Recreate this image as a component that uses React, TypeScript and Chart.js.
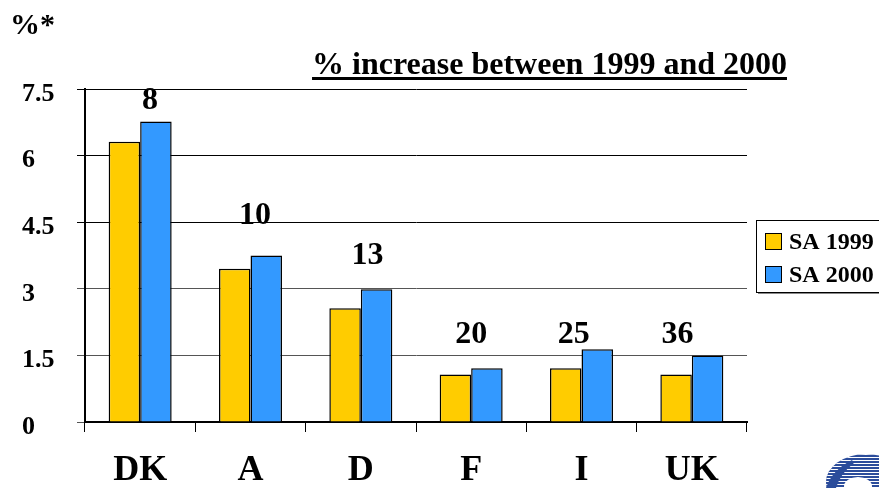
import React, { useEffect, useRef } from "react";
import { Chart, registerables } from "chart.js";

Chart.register(...registerables);

const categories = ["DK", "A", "D", "F", "I", "UK"];
const sa1999 = [6.31, 3.45, 2.56, 1.07, 1.21, 1.07];
const sa2000 = [6.77, 3.75, 2.99, 1.21, 1.64, 1.5];
const increaseLabels = ["8", "10", "13", "20", "25", "36"];
// label anchor positions in data units (x: category index, y: value axis)
const increaseLabelX = [0.09, 1.04, 2.06, 3.0, 3.93, 4.87];
const increaseLabelY = [7.04, 4.45, 3.56, 1.79, 1.79, 1.79];
const yTicks = [0, 1.5, 3, 4.5, 6, 7.5];
const yTickLabels = ["0", "1.5", "3", "4.5", "6", "7.5"];
const seriesNames = ["SA 1999", "SA 2000"];
const titleText = "% increase between 1999 and 2000";
const unitText = "%*";

const FONT = '"Liberation Serif", "Times New Roman", serif';
const YELLOW = "#FFCC00";
const BLUE = "#3399FF";

const overlayPlugin = {
  id: "overlay",
  afterDatasetsDraw(chart: any) {
    const ctx = chart.ctx;
    const xs = chart.scales.x;
    const ys = chart.scales.y;
    ctx.save();
    ctx.fillStyle = "#000";
    ctx.font = `bold 32px ${FONT}`;
    ctx.textAlign = "center";
    ctx.textBaseline = "alphabetic";
    increaseLabels.forEach((t, i) => {
      ctx.fillText(t, xs.getPixelForValue(increaseLabelX[i]), ys.getPixelForValue(increaseLabelY[i]));
    });
    ctx.restore();
  },
  afterDraw(chart: any) {
    const ctx = chart.ctx;
    ctx.save();
    ctx.fillStyle = "#000";
    // unit
    ctx.font = `bold 30px ${FONT}`;
    ctx.textAlign = "left";
    ctx.textBaseline = "alphabetic";
    ctx.fillText(unitText, 10, 34);
    // title
    ctx.font = `bold 32px ${FONT}`;
    ctx.textAlign = "center";
    const cx = 549.5;
    ctx.fillText(titleText, cx, 74);
    const w = ctx.measureText(titleText).width;
    ctx.fillRect(cx - w / 2, 77, w, 3);

    // legend
    const lx = 756, ly = 220, lh = 72;
    ctx.fillStyle = "#fff";
    ctx.fillRect(lx, ly, 140, lh);
    ctx.strokeStyle = "#888";
    ctx.lineWidth = 1;
    ctx.beginPath();
    ctx.moveTo(lx + 2, ly + lh + 1.5);
    ctx.lineTo(880, ly + lh + 1.5);
    ctx.stroke();
    ctx.strokeStyle = "#000";
    ctx.lineWidth = 1;
    ctx.strokeRect(lx + 0.5, ly + 0.5, 140, lh);
    const ds = chart.data.datasets;
    ctx.font = `bold 24px ${FONT}`;
    ctx.textAlign = "left";
    ds.forEach((d: any, i: number) => {
      const y = ly + 13 + i * 33;
      ctx.fillStyle = d.backgroundColor;
      ctx.fillRect(765, y, 16, 16);
      ctx.strokeStyle = "#000";
      ctx.strokeRect(765.5, y + 0.5, 16, 16);
      ctx.fillStyle = "#000";
      ctx.fillText(d.label, 789, y + 16);
    });

    // logo (decorative)
    ctx.save();
    ctx.beginPath();
    ctx.ellipse(866, 482, 40, 28, 0, 0, Math.PI * 2);
    ctx.clip();
    ctx.fillStyle = "#2B4C9B";
    ctx.fillRect(820, 450, 70, 40);
    ctx.strokeStyle = "#fff";
    ctx.lineWidth = 1;
    for (let y = 454; y < 490; y += 3) {
      ctx.beginPath();
      ctx.moveTo(820, y + 0.5);
      ctx.lineTo(890, y + 0.5);
      ctx.stroke();
    }
    ctx.fillStyle = "#fff";
    ctx.beginPath();
    ctx.ellipse(858, 486, 14, 9, 0, 0, Math.PI * 2);
    ctx.fill();
    ctx.restore();
    ctx.fillStyle = "#2B4C9B";
    ctx.beginPath();
    ctx.moveTo(826, 488);
    ctx.quadraticCurveTo(832, 470, 852, 460);
    ctx.lineTo(854, 463);
    ctx.quadraticCurveTo(840, 474, 836, 488);
    ctx.closePath();
    ctx.fill();
    ctx.restore();
  },
};

export default function App() {
  const ref = useRef<HTMLCanvasElement | null>(null);
  useEffect(() => {
    const prevMargin = document.body.style.margin;
    document.body.style.margin = "0";
    const canvas = ref.current!;
    const chart = new Chart(canvas, {
      type: "bar",
      data: {
        labels: categories,
        datasets: [
          {
            label: seriesNames[0],
            data: sa1999,
            backgroundColor: YELLOW,
            borderColor: "#000",
            borderWidth: 1.5,
            barPercentage: 1,
            categoryPercentage: 0.571,
          },
          {
            label: seriesNames[1],
            data: sa2000,
            backgroundColor: BLUE,
            borderColor: "#000",
            borderWidth: 1.5,
            barPercentage: 1,
            categoryPercentage: 0.571,
          },
        ],
      },
      options: {
        responsive: false,
        animation: false,
        devicePixelRatio: 1,
        layout: { padding: { left: 22, top: 89, right: 132, bottom: 0 } },
        plugins: {
          legend: { display: false },
          title: { display: false },
          tooltip: { enabled: false },
        },
        scales: {
          x: {
            type: "category",
            afterFit: (s: any) => {
              s.height = 66;
            },
            grid: {
              drawOnChartArea: false,
              drawTicks: true,
              tickLength: 10,
              color: "#000",
              lineWidth: 1,
            },
            border: { display: true, color: "#000", width: 2 },
            ticks: {
              color: "#000",
              font: { family: FONT, size: 36, weight: "bold" },
              padding: 17,
              maxRotation: 0,
            },
          },
          y: {
            min: 0,
            max: 7.5,
            afterFit: (s: any) => {
              s.width = 63;
            },
            afterBuildTicks: (s: any) => {
              s.ticks = yTicks.map((v) => ({ value: v }));
            },
            grid: {
              color: (c: any) => (c.tick && c.tick.value >= 4.5 ? "#000" : "#555"),
              lineWidth: 1,
              tickLength: 8,
              drawTicks: true,
            },
            border: { display: true, color: "#000", width: 2 },
            ticks: {
              color: "#000",
              crossAlign: "far",
              labelOffset: 5,
              font: { family: FONT, size: 26, weight: "bold" },
              callback: (v: any) => {
                const i = yTicks.indexOf(Number(v));
                return i >= 0 ? yTickLabels[i] : "";
              },
            },
          },
        },
      },
      plugins: [overlayPlugin],
    });
    return () => {
      chart.destroy();
      document.body.style.margin = prevMargin;
    };
  }, []);
  return (
    <div style={{ position: "absolute", left: 0, top: 0, width: 879, height: 488, background: "#fff" }}>
      <canvas ref={ref} width={879} height={488} style={{ display: "block" }} />
    </div>
  );
}
